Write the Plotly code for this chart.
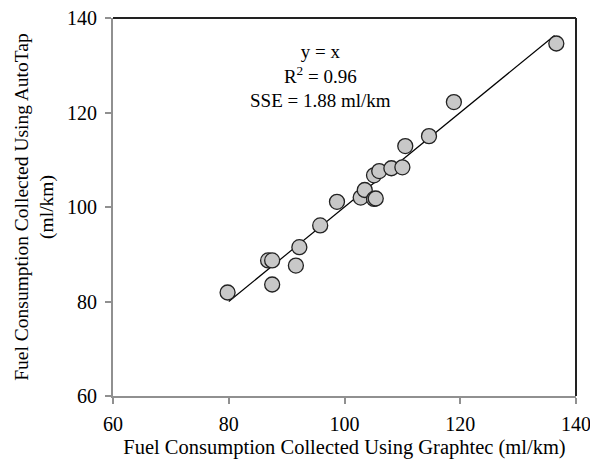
import plotly.graph_objects as go

graphtec = [79.8, 86.8, 87.5, 87.5, 91.6, 92.2, 95.8, 98.7, 102.8, 103.5, 105.1, 105.4,
            105.1, 106.0, 108.1, 110.0, 110.5, 114.6, 118.9, 136.6]
autotap = [81.9, 88.7, 88.7, 83.6, 87.6, 91.5, 96.1, 101.1, 102.0, 103.6, 101.7, 101.8,
           106.7, 107.6, 108.2, 108.4, 112.9, 115.0, 122.2, 134.6]
fit_x = [80, 136.3]
fit_y = [80, 136.3]

font = "Liberation Serif, Times New Roman, serif"

fig = go.Figure()
fig.add_trace(go.Scatter(x=fit_x, y=fit_y, mode="lines",
                         line=dict(color="black", width=1.2), showlegend=False))
fig.add_trace(go.Scatter(x=graphtec, y=autotap, mode="markers",
                         marker=dict(size=15, color="#c8c8c8",
                                     line=dict(color="#222222", width=1.3)),
                         showlegend=False))

fig.add_annotation(x=95.9, y=135.6, xref="x", yref="y",
                   text="y = x<br>R<sup>2</sup> = 0.96<br>SSE = 1.88 ml/km",
                   showarrow=False, yanchor="top", align="center",
                   font=dict(family=font, size=19, color="black"))

# top/right black frame
fig.add_shape(type="line", xref="paper", yref="paper", x0=0, x1=1, y0=1, y1=1,
              line=dict(color="#222222", width=2))
fig.add_shape(type="line", xref="paper", yref="paper", x0=1, x1=1, y0=0, y1=1,
              line=dict(color="#222222", width=2))

fig.update_layout(
    width=590, height=462,
    margin=dict(l=113, r=14, t=18, b=66),
    paper_bgcolor="white", plot_bgcolor="white",
    font=dict(family=font, size=20, color="black"),
    xaxis=dict(range=[60, 140], dtick=20, showgrid=False, zeroline=False,
               showline=True, linecolor="#909090", linewidth=2,
               ticks="outside", ticklen=6, tickwidth=2, tickcolor="#909090",
               ticklabelstandoff=3, ticklabeloverflow="allow", automargin=False,
               tickfont=dict(family=font, size=20),
               title=dict(text="Fuel Consumption Collected Using Graphtec (ml/km)",
                          font=dict(family=font, size=20.5), standoff=6)),
    yaxis=dict(range=[60, 140], dtick=20, showgrid=False, zeroline=False,
               showline=True, linecolor="#909090", linewidth=2,
               ticks="outside", ticklen=6, tickwidth=2, tickcolor="#909090",
               ticklabelstandoff=4, ticklabeloverflow="allow", automargin=False,
               tickfont=dict(family=font, size=20),
               title=dict(text="Fuel Consumption Collected Using AutoTap<br>(ml/km)",
                          font=dict(family=font, size=19.5), standoff=8)),
)

fig.write_html("out.html")
